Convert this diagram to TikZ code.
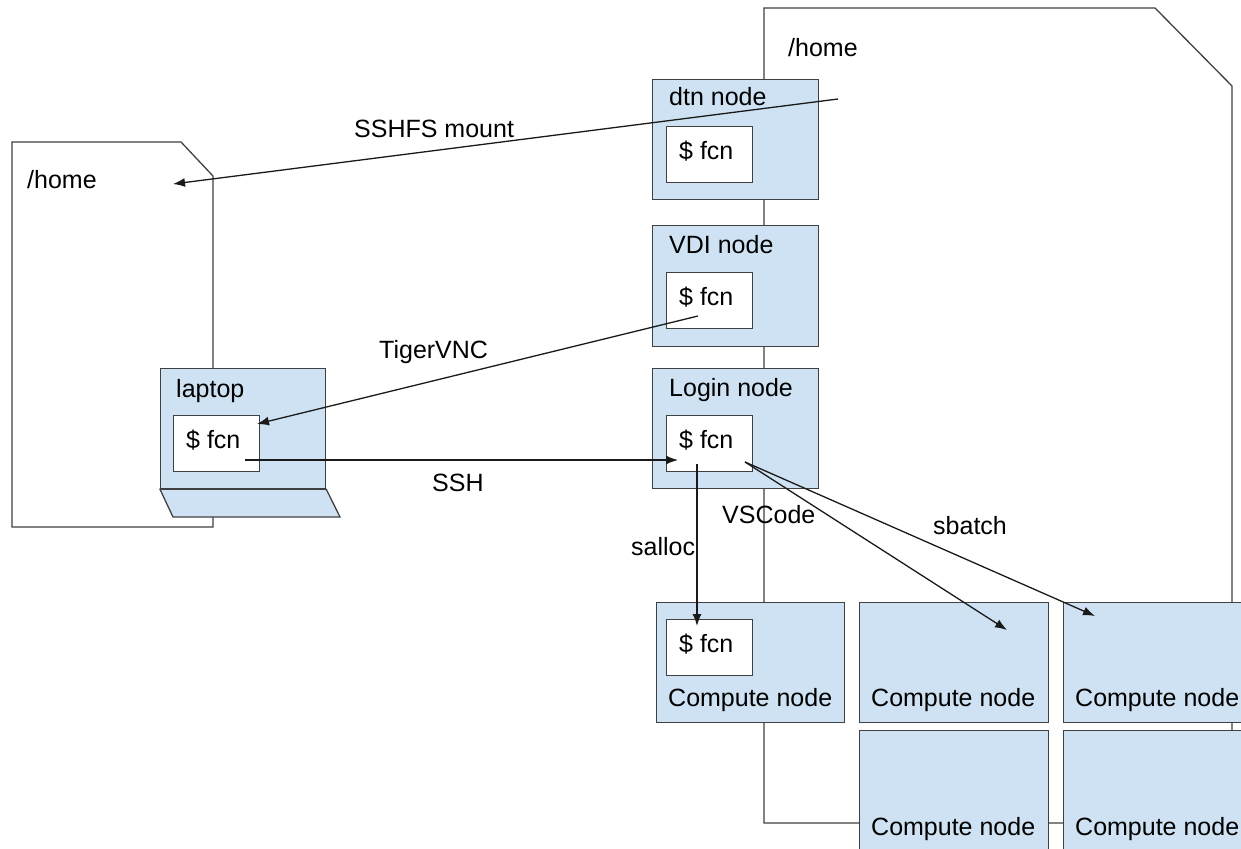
\documentclass[tikz,border=0pt]{standalone}
\usepackage{fontspec}
\setmainfont{Liberation Sans}
\usetikzlibrary{arrows.meta,calc}
\definecolor{boxfill}{HTML}{CFE2F3}
\definecolor{edgec}{HTML}{404040}
\definecolor{arrc}{HTML}{1A1A1A}
\begin{document}
\begin{tikzpicture}[x=1pt,y=-1pt,
  font=\fontsize{25}{30}\selectfont,
  box/.style={draw=edgec, fill=boxfill, line width=1.3pt, inner sep=0pt, anchor=north west},
  fcnbox/.style={draw=edgec, fill=white, line width=1.3pt, inner sep=0pt, anchor=north west, minimum width=86pt, minimum height=56pt},
  shapeline/.style={draw=edgec, fill=white, line width=1.3pt, line join=miter},
  lbl/.style={anchor=base west, inner sep=0pt, text=black},
  arr/.style={draw=arrc, line width=1.3pt, -{Latex[length=12pt,width=9pt]}}]
\useasboundingbox (0,0) rectangle (1241,848);
\clip (0,0) rectangle (1241,848);

% storage shapes
\draw[shapeline] (764,823) -- (764,8) -- (1155,8) -- (1232,86) -- (1232,823) -- cycle;
\draw[shapeline] (12,527) -- (12,142) -- (181,142) -- (213,176) -- (213,527) -- cycle;
\node[lbl] (homeR) at (788,57) {/home};
\node[lbl] (homeL) at (27,188) {/home};

% server nodes
\node[box, minimum width=166pt, minimum height=120pt] (dtn) at (652,79) {};
\node[fcnbox] (dtnf) at (666,126) {};
\node[lbl] (dtnl) at ($(dtn.north west)+(17,27)$) {dtn node};
\node[lbl] (dtnfl) at ($(dtnf.north west)+(13,33)$) {\$ fcn};

\node[box, minimum width=166pt, minimum height=121pt] (vdi) at (652,225) {};
\node[fcnbox] (vdif) at (666,272) {};
\node[lbl] (vdil) at ($(vdi.north west)+(17,28)$) {VDI node};
\node[lbl] (vdifl) at ($(vdif.north west)+(13,33)$) {\$ fcn};

\node[box, minimum width=166pt, minimum height=120pt] (login) at (652,368) {};
\node[fcnbox] (loginf) at (666,415) {};
\node[lbl] (loginl) at ($(login.north west)+(17,28)$) {Login node};
\node[lbl] (loginfl) at ($(loginf.north west)+(13,33)$) {\$ fcn};

% laptop
\node[box, minimum width=165pt, minimum height=120pt] (laptop) at (160,368) {};
\draw[draw=edgec, fill=boxfill, line width=1.3pt] (laptop.south west) -- (laptop.south east) -- (340,517) -- (173,517) -- cycle;
\node[fcnbox] (laptopf) at (173,415) {};
\node[lbl] (laptopl) at ($(laptop.north west)+(16,29)$) {laptop};
\node[lbl] (laptopfl) at ($(laptopf.north west)+(13,33)$) {\$ fcn};

% compute nodes
\node[box, minimum width=188pt, minimum height=120pt] (cn1) at (656,602) {};
\node[fcnbox] (cn1f) at (666,619) {};
\node[lbl] (cn1fl) at ($(cn1f.north west)+(13,33)$) {\$ fcn};
\node[lbl] (cn1l) at ($(cn1.north west)+(12,104)$) {Compute node};

\node[box, minimum width=189pt, minimum height=120pt] (cn2) at (859,602) {};
\node[lbl] (cn2l) at ($(cn2.north west)+(12,104)$) {Compute node};

\node[box, minimum width=200pt, minimum height=120pt] (cn3) at (1063,602) {};
\node[lbl] (cn3l) at ($(cn3.north west)+(12,104)$) {Compute node};

\node[box, minimum width=189pt, minimum height=140pt] (cn4) at (859,730) {};
\node[lbl] (cn4l) at ($(cn4.north west)+(12,105)$) {Compute node};

\node[box, minimum width=200pt, minimum height=140pt] (cn5) at (1063,730) {};
\node[lbl] (cn5l) at ($(cn5.north west)+(12,105)$) {Compute node};

% connector end points
\coordinate (sshfsS) at (838,99);
\coordinate (sshfsE) at (173,184);
\coordinate (vncS) at (698,316);
\coordinate (vncE) at (257,424);
\coordinate (sshS) at (245,460);
\coordinate (sshE) at (678,460);
\coordinate (sallocS) at (697,464);
\coordinate (sallocE) at (697,626);
\coordinate (jobS) at (745,462);
\coordinate (vscE) at (1007,630);
\coordinate (sbE) at (1095,616);

% connectors
\draw[arr] (sshfsS) -- (sshfsE);
\draw[arr] (vncS) -- (vncE);
\draw[arr] (sshS) -- (sshE);
\draw[arr] (sallocS) -- (sallocE);
\draw[arr] (jobS) -- (vscE);
\draw[arr] (jobS) -- (sbE);

% connector labels
\node[lbl] (lsshfs) at (354,137) {SSHFS mount};
\node[lbl] (lvnc) at (379,358) {TigerVNC};
\node[lbl] (lssh) at (432,491) {SSH};
\node[lbl] (lsalloc) at (631,555) {salloc};
\node[lbl] (lvsc) at (722,523) {VSCode};
\node[lbl] (lsb) at (933,534) {sbatch};
\end{tikzpicture}
\end{document}
